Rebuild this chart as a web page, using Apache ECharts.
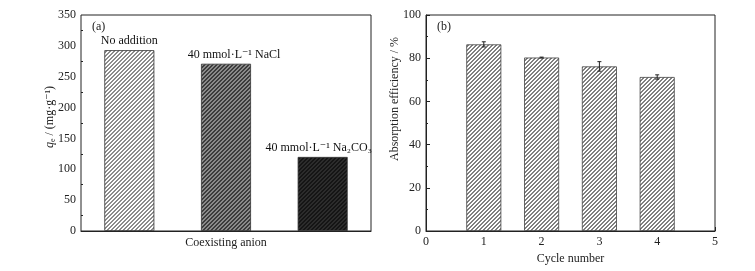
<!DOCTYPE html>
<html>
<head>
	<meta charset="utf-8">
	<title>adsorption bars</title>
	<script src="https://cdn.jsdelivr.net/npm/echarts@6/dist/echarts.min.js"></script>
	<style>
		body { margin: 0; background: #fff; }
		#main { width: 755px; height: 271px; }
	</style>
</head>
<body>
<div id="main"></div>
<script type="text/javascript">
	// (a) 共存阴离子
	var anionCats = ['No addition', 'NaCl', 'Na2CO3'];
	var anionLabels = ['No addition', '40 mmol\u00b7L\u207b\u00b9 NaCl', '40 mmol\u00b7L\u207b\u00b9 Na\u2082CO\u2083'];
	var anionQe = [293, 271, 120];
	var anionTicks = [0, 50, 100, 150, 200, 250, 300, 350];

	// (b) 循环次数
	var cycles = [1, 2, 3, 4];
	var efficiency = [86.4, 80.3, 76.2, 71.3];
	var effErr = [1.2, 0.2, 2.2, 1.0];
	var cycleTicks = [0, 1, 2, 3, 4, 5];

	var font = 'Liberation Serif, DejaVu Serif, serif';
	var fs = 12;

	// 斜线填充
	function hatch(bg, fg) {
		var c = document.createElement('canvas');
		c.width = 8; c.height = 8;
		var ctx = c.getContext('2d');
		for (var x = 0; x < 8; x++) {
			for (var y = 0; y < 8; y++) {
				ctx.fillStyle = ((x + y) % 4 < 2) ? fg : bg;
				ctx.fillRect(x, y, 1, 1);
			}
		}
		return { image: c, repeat: 'repeat' };
	}
	var fills = [hatch('#ffffff', '#8c8c8c'), hatch('#8a8a8a', '#3c3c3c'), hatch('#2c2c2c', '#151515')];
	var fillB = hatch('#ffffff', '#808080');
	var labelOffset = [[0, 0], [8, 0], [-4, 0]];

	var barA = [];
	for (var i = 0; i < anionQe.length; i++) {
		barA.push({
			value: anionQe[i],
			itemStyle: { color: fills[i] },
			label: { formatter: anionLabels[i], offset: labelOffset[i] }
		});
	}
	var barB = [], errB = [];
	for (var i = 0; i < cycles.length; i++) {
		barB.push([cycles[i], efficiency[i]]);
		errB.push([cycles[i], efficiency[i] - effErr[i], efficiency[i] + effErr[i]]);
	}

	var axisCommon = {
		axisLine: { lineStyle: { color: '#222', width: 1 } },
		axisTick: { inside: true, length: 4, lineStyle: { color: '#222' } },
		minorTick: { show: true, splitNumber: 2, length: 2, lineStyle: { color: '#222' } },
		axisLabel: { color: '#222', fontFamily: font, fontSize: fs, margin: 5 },
		splitLine: { show: false }
	};

	var myChart = echarts.init(document.getElementById('main'));
	var option = {
		animation: false,
		backgroundColor: '#fff',
		grid: [
			{ left: 81, right: 384, top: 15, bottom: 40, show: true, borderColor: '#222', borderWidth: 1 },
			{ left: 426, right: 40, top: 15, bottom: 40, show: true, borderColor: '#222', borderWidth: 1 }
		],
		xAxis: [
			{
				type: 'category', gridIndex: 0, data: anionCats,
				axisLine: { lineStyle: { color: '#222' } },
				axisTick: { show: false }, axisLabel: { show: false },
				name: 'Coexisting anion', nameLocation: 'middle', nameGap: 6,
				nameTextStyle: { color: '#222', fontFamily: font, fontSize: fs, verticalAlign: 'top' }
			},
			echarts.util.merge({
				type: 'value', gridIndex: 1, min: cycleTicks[0], max: cycleTicks[cycleTicks.length - 1], interval: 1,
				minorTick: { show: false },
				name: 'Cycle number', nameLocation: 'middle', nameGap: 18,
				nameTextStyle: { color: '#222', fontFamily: font, fontSize: fs, verticalAlign: 'top' }
			}, axisCommon)
		],
		yAxis: [
			echarts.util.merge({
				type: 'value', gridIndex: 0, min: anionTicks[0], max: anionTicks[anionTicks.length - 1], interval: 50
			}, axisCommon),
			echarts.util.merge({
				type: 'value', gridIndex: 1, min: 0, max: 100, interval: 20
			}, axisCommon)
		],
		graphic: [
			{ type: 'text', left: 92, top: 21, style: { text: '(a)', font: '12px ' + font, fill: '#222' } },
			{ type: 'text', left: 437, top: 21, style: { text: '(b)', font: '12px ' + font, fill: '#222' } },
			{
				type: 'text', x: 50, y: 117, rotation: Math.PI / 2,
				style: {
					text: '{i|q}{s|e} / (mg\u00b7g\u207b\u00b9)', align: 'center', verticalAlign: 'middle',
					font: fs + 'px ' + font, fill: '#222',
					rich: {
						i: { fontStyle: 'italic', fontFamily: 'Liberation Serif', fontSize: fs, fill: '#222' },
						s: { fontSize: 8, fontFamily: 'Liberation Serif', verticalAlign: 'bottom', padding: [6, 0, 0, 0], fill: '#222' }
					}
				}
			},
			{
				type: 'text', x: 395, y: 99, rotation: Math.PI / 2,
				style: { text: 'Absorption efficiency / %', align: 'center', verticalAlign: 'middle', font: fs + 'px ' + font, fill: '#222' }
			}
		],
		series: [
			{
				type: 'bar', xAxisIndex: 0, yAxisIndex: 0, barWidth: 50, data: barA,
				itemStyle: { borderColor: '#333', borderWidth: 0.8 },
				label: { show: true, position: 'top', distance: 3, color: '#111', fontFamily: font, fontSize: fs }
			},
			{
				type: 'bar', xAxisIndex: 1, yAxisIndex: 1, barWidth: 35, data: barB,
				itemStyle: { color: fillB, borderColor: '#444', borderWidth: 0.8 }
			},
			{
				type: 'custom', xAxisIndex: 1, yAxisIndex: 1, data: errB, z: 5,
				renderItem: function (params, api) {
					var lo = api.coord([api.value(0), api.value(1)]);
					var hi = api.coord([api.value(0), api.value(2)]);
					var w = 2;
					var st = { stroke: '#222', lineWidth: 1 };
					return {
						type: 'group',
						children: [
							{ type: 'line', shape: { x1: lo[0], y1: lo[1], x2: hi[0], y2: hi[1] }, style: st },
							{ type: 'line', shape: { x1: lo[0] - w, y1: lo[1], x2: lo[0] + w, y2: lo[1] }, style: st },
							{ type: 'line', shape: { x1: hi[0] - w, y1: hi[1], x2: hi[0] + w, y2: hi[1] }, style: st }
						]
					};
				}
			}
		]
	};
	myChart.setOption(option);
	window.addEventListener('resize', myChart.resize);
</script>
</body>
</html>
